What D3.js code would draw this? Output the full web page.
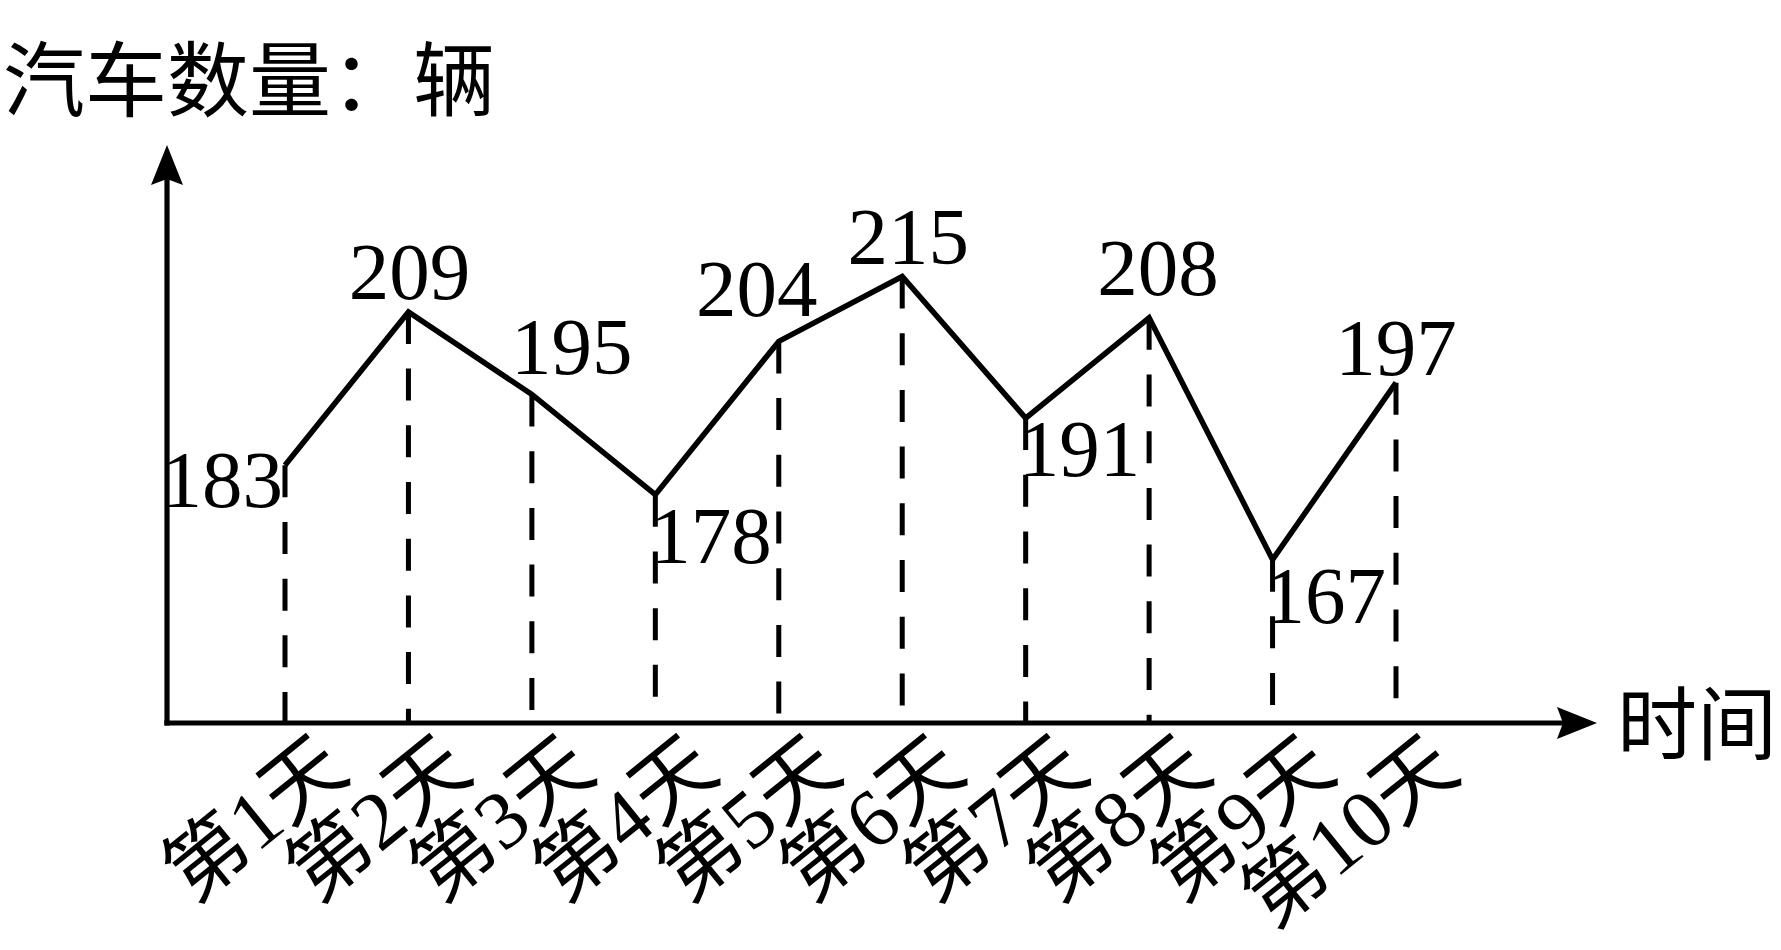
<!DOCTYPE html>
<html><head><meta charset="utf-8">
<script src="https://cdn.jsdelivr.net/npm/d3@7"></script>
<style>
html,body{margin:0;padding:0;background:#fff;}
svg{display:block;}
</style></head><body>
<script>
// ---- data ----
const days = ["第1天","第2天","第3天","第4天","第5天","第6天","第7天","第8天","第9天","第10天"];
const cars = [183, 209, 195, 178, 204, 215, 191, 208, 167, 197];
const yAxisTitle = "汽车数量：辆";
const xAxisTitle = "时间";

// ---- value label placement (style) ----
const labelAnchor = ["end","middle","start","start","middle","middle","start","middle","start","middle"];
const labelDx = [-2, 1, -21, -5, -22, 6, -7, 9, -8, 0];
const labelDy = [42, -13, -20, 68, -25, -13, 58, -23, 63, -8];

const W = 1781, H = 950;
const originX = 167, originY = 723, xEnd = 1597, yTop = 145;
const serif = "'Liberation Serif','Times New Roman','Noto Sans CJK SC',serif";
const cjk = "'Noto Sans CJK SC','Liberation Serif',sans-serif";

const svg = d3.select("body").append("svg").attr("width", W).attr("height", H);

const x = d3.scalePoint().domain(days).range([285, 1396]);
const y = d3.scaleLinear().domain([139.3, 237.3]).range([originY, yTop]);

// dashed drop lines
svg.append("g").selectAll("line").data(cars).join("line")
  .attr("x1", (d, i) => x(days[i])).attr("x2", (d, i) => x(days[i]))
  .attr("y1", d => y(d)).attr("y2", originY)
  .attr("stroke", "#000").attr("stroke-width", 5)
  .attr("stroke-dasharray", "32,24.7");

// axes
svg.append("line").attr("x1", originX).attr("y1", originY).attr("x2", originX).attr("y2", yTop + 20)
  .attr("stroke", "#000").attr("stroke-width", 5.2).attr("stroke-linecap", "square");
svg.append("line").attr("x1", originX).attr("y1", originY).attr("x2", xEnd - 20).attr("y2", originY)
  .attr("stroke", "#000").attr("stroke-width", 5.2).attr("stroke-linecap", "square");
// arrow heads
svg.append("path")
  .attr("d", `M${xEnd},${originY} L${xEnd-40},${originY-16} L${xEnd-34},${originY} L${xEnd-40},${originY+16} Z`)
  .attr("fill", "#000");
svg.append("path")
  .attr("d", `M${originX},${yTop} L${originX-16},${yTop+40} L${originX},${yTop+34} L${originX+16},${yTop+40} Z`)
  .attr("fill", "#000");

// line
const line = d3.line().x((d, i) => x(days[i])).y(d => y(d)).curve(d3.curveLinear);
svg.append("path").datum(cars).attr("d", line)
  .attr("fill", "none").attr("stroke", "#000").attr("stroke-width", 5.5)
  .attr("stroke-linejoin", "miter");

// value labels
svg.append("g").selectAll("text").data(cars).join("text")
  .attr("x", (d, i) => x(days[i]) + labelDx[i])
  .attr("y", (d, i) => y(d) + labelDy[i])
  .attr("text-anchor", (d, i) => labelAnchor[i])
  .attr("font-family", serif).attr("font-size", 81).attr("fill", "#000")
  .text(d => d);

// x tick labels via axis
const xAxis = d3.axisBottom(x).tickSize(0);
const gx = svg.append("g").attr("transform", `translate(0,${originY})`).call(xAxis);
gx.select(".domain").remove();
gx.selectAll("text")
  .attr("x", 0).attr("y", 0).attr("dy", null)
  .attr("text-anchor", "end")
  .attr("transform", "translate(66.5,53) rotate(-39)")
  .attr("font-family", serif).attr("font-size", 82).attr("fill", "#000");

// axis titles
svg.append("text").attr("x", 3).attr("y", 110)
  .attr("font-family", cjk).attr("font-size", 82).attr("fill", "#000")
  .text(yAxisTitle);
svg.append("text").attr("x", 1617).attr("y", 753)
  .attr("font-family", cjk).attr("font-size", 80).attr("fill", "#000")
  .text(xAxisTitle);
</script>
</body></html>
